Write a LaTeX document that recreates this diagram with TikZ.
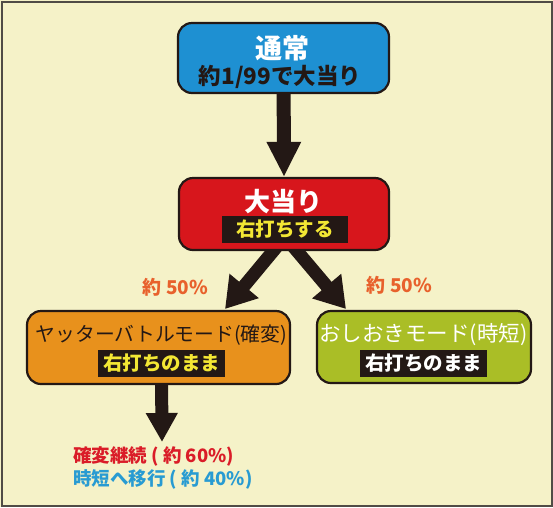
\documentclass[tikz,border=0pt]{standalone}
\usepackage{fontspec}
\setmainfont{Noto Sans CJK JP}
\usetikzlibrary{arrows.meta}
\definecolor{bgc}{RGB}{245,242,200}
\definecolor{framec}{RGB}{80,76,70}
\definecolor{inkc}{RGB}{35,24,21}
\definecolor{bluec}{RGB}{30,144,210}
\definecolor{redc}{RGB}{215,22,28}
\definecolor{orangec}{RGB}{232,145,28}
\definecolor{greenc}{RGB}{170,190,38}
\definecolor{yelc}{RGB}{243,231,52}
\definecolor{pctc}{RGB}{232,97,44}
\definecolor{redtxt}{RGB}{218,28,40}
\definecolor{bluetxt}{RGB}{40,155,210}
\pgfdeclarelayer{back}
\pgfdeclarelayer{bg}
\pgfsetlayers{back,bg,main}
\tikzset{
  box/.style={draw=inkc, line width=2.2pt, rounded corners=14pt, inner sep=0pt},
  tag/.style={fill=inkc, inner sep=0pt, minimum width=127pt, minimum height=27pt, font=\fontsize{19.5}{19.5}\selectfont\bfseries},
  ttl/.style={inner sep=0pt},
  bigarrow/.style={draw=inkc, line width=14pt, -{Triangle[width=32pt,length=35pt]}},
  diagarrow/.style={draw=inkc, line width=13pt, -{Triangle[width=36pt,length=30pt]}},
}
\begin{document}
\begin{tikzpicture}[x=1pt,y=-1pt]
\useasboundingbox (0,0) rectangle (553,507);
\begin{pgfonlayer}{back}
\fill[bgc] (0,0) rectangle (553,507);
\draw[framec, line width=2pt] (1.5,1.5) rectangle (551.5,505.5);
\end{pgfonlayer}

% boxes
\node[box, fill=bluec, minimum width=211pt, minimum height=70pt] (normal) at (283.5,58) {};
\node[box, fill=redc, minimum width=210pt, minimum height=72pt] (hit) at (284,214) {};
\node[box, fill=orangec, minimum width=263pt, minimum height=73pt] (yatta) at (158.5,347.5) {};
\node[box, fill=greenc, minimum width=214pt, minimum height=72pt] (oshi) at (424,347) {};

% texts
\node[ttl, text=white, font=\fontsize{27}{27}\selectfont\bfseries] (t1) at (282,48) {通常};
\node[ttl, text=inkc, font=\fontsize{22.5}{22.5}\selectfont\bfseries] (t2) at (280,77) {約1/99で大当り};
\node[ttl, text=white, font=\fontsize{26}{26}\selectfont\bfseries] (t3) at (283.5,202) {大当り};
\node[tag, text=yelc, minimum width=126pt] (l1) at (285,229.5) {右打ちする};
\node[ttl, text=inkc, font=\fontsize{19.8}{19.8}\selectfont] (t4) at (161.5,335) {ヤッターバトルモード(確変)};
\node[tag, text=yelc] (l2) at (161.5,363.5) {右打ちのまま};
\node[ttl, text=white, font=\fontsize{21.5}{21.5}\selectfont] (t5) at (423.5,335) {おしおきモード(時短)};
\node[tag, text=white] (l3) at (423.5,363.5) {右打ちのまま};

\node[ttl, text=pctc, font=\fontsize{19}{19}\selectfont\bfseries] (p1) at (175.5,287) {約 50\%};
\node[ttl, text=pctc, font=\fontsize{19}{19}\selectfont\bfseries] (p2) at (399.5,285) {約 50\%};

\node[ttl, text=redtxt, font=\fontsize{18.5}{18.5}\selectfont\bfseries, anchor=west] (r1) at (73,456) {確変継続 ( 約 60\%)};
\node[ttl, text=bluetxt, font=\fontsize{18.5}{18.5}\selectfont\bfseries, anchor=west] (r2) at (73,479) {時短へ移行 ( 約 40\%)};

% arrows
\coordinate (ls) at (284,238);
\coordinate (lt) at (225,309);
\coordinate (rs) at (286,238);
\coordinate (rt) at (346,309);
\coordinate (dt) at (162,442);
\begin{pgfonlayer}{bg}
\draw[bigarrow] (normal.center) -- (hit.north);
\draw[diagarrow] (ls) -- (lt);
\draw[diagarrow] (rs) -- (rt);
\draw[bigarrow, line width=13pt, -{Triangle[width=30pt,length=29pt]}] (161.5,370) -- (dt);
\end{pgfonlayer}
\end{tikzpicture}
\end{document}
